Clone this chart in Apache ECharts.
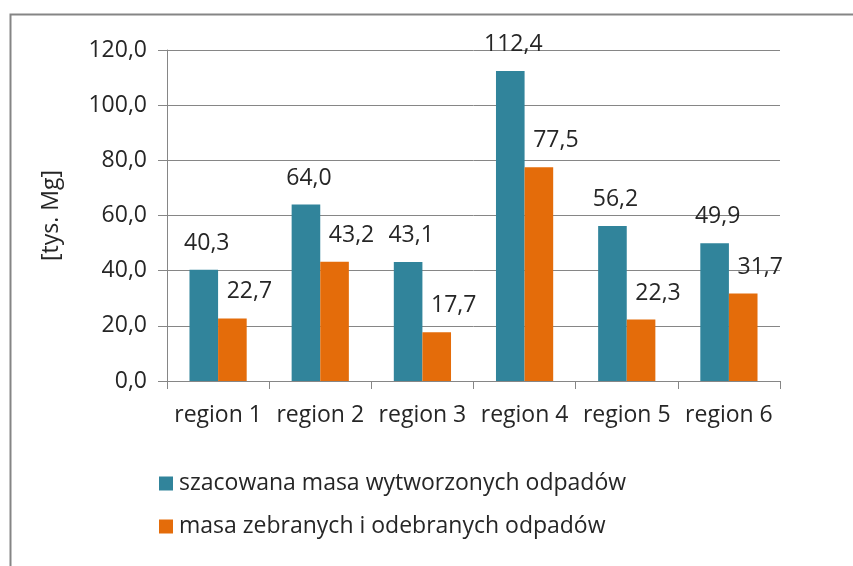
<!DOCTYPE html>
<html>
<head>
<meta charset="utf-8">
<script src="https://cdn.jsdelivr.net/npm/echarts@6/dist/echarts.min.js"></script>
<style>
html,body{margin:0;padding:0;background:#fff;}
#chart{width:853px;height:566px;}
</style>
</head>
<body>
<div id="chart"></div>
<script>
const categories = ['region 1', 'region 2', 'region 3', 'region 4', 'region 5', 'region 6'];
const seriesNames = ['szacowana masa wytworzonych odpadów', 'masa zebranych i odebranych odpadów'];
const estimated = [40.3, 64.0, 43.1, 112.4, 56.2, 49.9];
const collected = [22.7, 43.2, 17.7, 77.5, 22.3, 31.7];
const yAxisName = '[tys. Mg]';

const FONT = 'Open Sans';
const FS = 23;
const TXT = '#262626';
const fmt = v => Number(v).toFixed(1).replace('.', ',');
const chart = echarts.init(document.getElementById('chart'), null, {renderer: 'canvas'});
const labelStyle = (dx) => ({
  show: true, position: 'top', distance: 15, offset: [dx, 0],
  fontFamily: FONT, fontSize: FS, color: TXT,
  formatter: p => fmt(p.value)
});
chart.setOption({
  animation: false,
  textStyle: {fontFamily: FONT},
  graphic: [{
    type: 'rect', left: 8, top: 12, shape: {x: 0, y: 0, width: 900, height: 600},
    style: {fill: 'none', stroke: '#858585', lineWidth: 2}, silent: true, z: -1
  }],
  grid: {left: 167, right: 73, top: 50, bottom: 185, containLabel: false},
  legend: {
    orient: 'vertical', left: 154, top: 467,
    itemWidth: 14, itemHeight: 14, itemGap: 20,
    icon: 'rect',
    textStyle: {fontFamily: FONT, fontSize: FS, color: TXT, padding: [0, 0, 0, 1]},
    data: seriesNames
  },
  xAxis: {
    type: 'category', data: categories,
    axisLine: {lineStyle: {color: '#868686', width: 1}},
    axisTick: {show: true, length: 8, alignWithLabel: false, lineStyle: {color: '#868686'}},
    axisLabel: {fontFamily: FONT, fontSize: FS, color: TXT, margin: 23, interval: 0}
  },
  yAxis: {
    type: 'value', min: 0, max: 120, interval: 20,
    name: yAxisName, nameLocation: 'middle', nameGap: 104, nameRotate: 90,
    nameTextStyle: {fontFamily: FONT, fontSize: FS, color: TXT},
    axisLine: {show: true, lineStyle: {color: '#868686'}},
    axisTick: {show: true, length: 9, lineStyle: {color: '#868686'}},
    splitLine: {show: true, lineStyle: {color: '#868686', width: 1}},
    axisLabel: {fontFamily: FONT, fontSize: FS, color: TXT, margin: 20, formatter: v => fmt(v)}
  },
  series: [
    {name: seriesNames[0], type: 'bar', data: estimated, barGap: '0%', barCategoryGap: '44%',
     itemStyle: {color: '#31849B'}, label: labelStyle(3)},
    {name: seriesNames[1], type: 'bar', data: collected, barGap: '0%', barCategoryGap: '44%',
     itemStyle: {color: '#E46C0A'}, label: labelStyle(17)}
  ]
});
</script>
</body>
</html>
